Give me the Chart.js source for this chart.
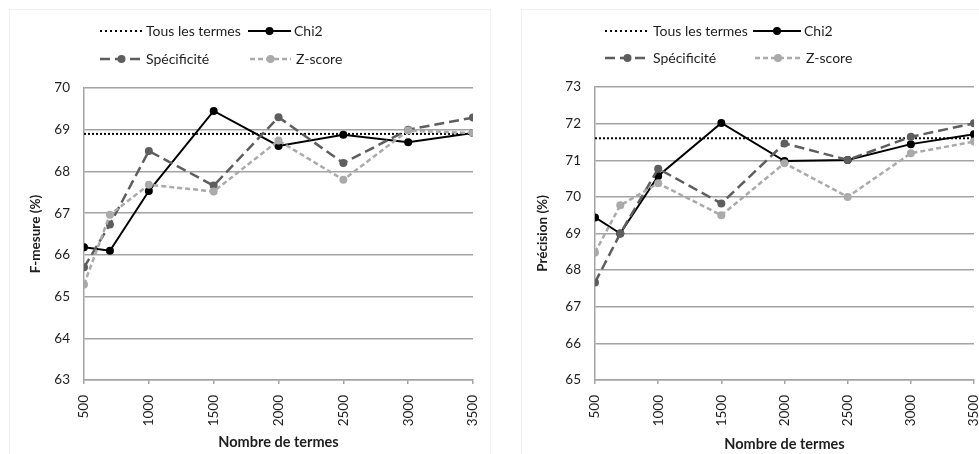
<!DOCTYPE html>
<html>
<head>
<meta charset="utf-8">
<script src="https://cdn.jsdelivr.net/npm/chart.js@4"></script>
<style>
  html, body { margin: 0; padding: 0; background: #fff; overflow: hidden; width: 979px; height: 454px; }
  .frame { position: absolute; box-sizing: border-box; border: 1px solid #efefef; }
  canvas { position: absolute; }
</style>
</head>
<body>
<div class="frame" style="left:9px;top:9px;width:482px;height:470px"></div>
<div class="frame" style="left:521px;top:9px;width:480px;height:470px"></div>
<canvas id="fmesure" width="480" height="444" style="left:10px;top:10px"></canvas>
<canvas id="precision" width="480" height="444" style="left:522px;top:10px"></canvas>
<script>
// Number of terms kept for each run
const termCounts = [500, 700, 1000, 1500, 2000, 2500, 3000, 3500];
const xTickValues = [500, 1000, 1500, 2000, 2500, 3000, 3500];

// F-measure (%)
const fAllTerms = 68.9;
const fChi2     = [66.18, 66.10, 67.53, 69.45, 68.61, 68.88, 68.70, 68.92];
const fSpecif   = [65.70, 66.73, 68.49, 67.66, 69.30, 68.20, 69.00, 69.29];
const fZscore   = [65.29, 66.96, 67.68, 67.52, 68.74, 67.80, 68.98, 68.92];
const fTicks    = [63, 64, 65, 66, 67, 68, 69, 70];

// Precision (%)
const pAllTerms = 71.6;
const pChi2     = [69.44, 69.00, 70.57, 72.02, 70.98, 71.01, 71.44, 71.71];
const pSpecif   = [67.66, 69.00, 70.77, 69.82, 71.46, 71.01, 71.64, 72.01];
const pZscore   = [68.48, 69.77, 70.37, 69.50, 70.92, 70.00, 71.19, 71.51];
const pTicks    = [65, 66, 67, 68, 69, 70, 71, 72, 73];

const FONT = 'Lato, "Open Sans", sans-serif';
const GRID = '#a3a3a3';
const TEXT = '#1e1e1e';

const toPoints = vals => vals.map((v, i) => ({ x: termCounts[i], y: v }));

// Two-column legend drawn above the plot, using each dataset's own style
const gridLegend = {
  id: 'gridLegend',
  afterDraw(chart, args, opts) {
    const ctx = chart.ctx;
    const sets = chart.data.datasets;
    ctx.save();
    ctx.font = opts.font;
    ctx.textBaseline = 'middle';
    ctx.textAlign = 'left';
    opts.items.forEach(it => {
      const d = sets[it.index];
      ctx.beginPath();
      ctx.setLineDash(it.dash || d.borderDash || []);
      ctx.lineWidth = d.borderWidth;
      ctx.strokeStyle = d.borderColor;
      ctx.moveTo(it.x0, it.y);
      ctx.lineTo(it.x1, it.y);
      ctx.stroke();
      ctx.setLineDash([]);
      if (d.pointRadius > 0) {
        ctx.beginPath();
        ctx.fillStyle = d.pointBackgroundColor;
        ctx.arc((it.x0 + it.x1) / 2, it.y, d.pointRadius, 0, Math.PI * 2);
        ctx.fill();
      }
      ctx.fillStyle = TEXT;
      ctx.fillText(d.label, it.tx, it.y + 0.5);
    });
    ctx.restore();
  }
};

function makeDatasets(allTerms, chi2, specif, zscore) {
  return [
    {
      label: 'Tous les termes',
      data: [{ x: termCounts[0], y: allTerms }, { x: termCounts[termCounts.length - 1], y: allTerms }],
      borderColor: '#000', borderWidth: 2, borderDash: [2, 2],
      pointRadius: 0, order: 4
    },
    {
      label: 'Chi2',
      data: toPoints(chi2),
      borderColor: '#000', borderWidth: 2,
      pointRadius: 4, pointBackgroundColor: '#000', pointBorderWidth: 0, order: 3
    },
    {
      label: 'Spécificité',
      data: toPoints(specif),
      borderColor: '#5e5e5e', borderWidth: 2.5, borderDash: [10, 5],
      pointRadius: 4, pointBackgroundColor: '#5e5e5e', pointBorderWidth: 0, order: 2
    },
    {
      label: 'Z-score',
      data: toPoints(zscore),
      borderColor: '#aaaaaa', borderWidth: 2.5, borderDash: [5, 3],
      pointRadius: 4, pointBackgroundColor: '#aaaaaa', pointBorderWidth: 0, order: 1
    }
  ];
}

// The plot rectangle is set by the layout padding alone
function noScalePadding(s) {
  s.paddingLeft = 0; s.paddingRight = 0; s.paddingTop = 0; s.paddingBottom = 0;
}

function makeChart(id, cfg) {
  const yTicks = cfg.yTicks;
  return new Chart(document.getElementById(id), {
    type: 'line',
    data: { datasets: makeDatasets(cfg.all, cfg.chi2, cfg.specif, cfg.zscore) },
    options: {
      responsive: false,
      animation: false,
      devicePixelRatio: 1,
      layout: { padding: { left: 0, right: cfg.padRight, top: cfg.padTop, bottom: 0 } },
      elements: { line: { tension: 0, fill: false } },
      plugins: {
        legend: { display: false },
        tooltip: { enabled: false },
        gridLegend: { font: '14px ' + FONT, items: cfg.legendItems }
      },
      scales: {
        x: {
          type: 'linear',
          min: xTickValues[0],
          max: xTickValues[xTickValues.length - 1],
          afterBuildTicks: s => { s.ticks = xTickValues.map(v => ({ value: v })); },
          afterFit: s => { s.height = 74; noScalePadding(s); },
          border: { color: GRID, width: 1.5 },
          grid: { drawOnChartArea: false, drawTicks: true, tickLength: 4, color: GRID, lineWidth: 1.5 },
          ticks: {
            minRotation: 90, maxRotation: 90, padding: 11,
            color: TEXT, font: { family: FONT, size: 13.5 },
            callback: v => String(v)
          },
          title: {
            display: true, text: 'Nombre de termes', color: TEXT,
            font: { family: FONT, size: 14.5, weight: 'bold' },
            padding: { top: 0, bottom: cfg.xTitlePad }
          }
        },
        y: {
          min: yTicks[0],
          max: yTicks[yTicks.length - 1],
          afterBuildTicks: s => { s.ticks = yTicks.map(v => ({ value: v })); },
          afterFit: s => { s.width = cfg.yWidth; noScalePadding(s); },
          border: { color: GRID, width: 1.5 },
          grid: { drawTicks: false, color: GRID, lineWidth: 1.5 },
          ticks: {
            padding: 14, color: TEXT, font: { family: FONT, size: 13.5 },
            callback: v => String(v)
          },
          title: {
            display: true, text: cfg.yTitle, color: TEXT,
            font: { family: FONT, size: 13.5, weight: 'bold' },
            padding: { top: cfg.yTitlePad, bottom: 0 }
          }
        }
      }
    },
    plugins: [gridLegend]
  });
}

makeChart('fmesure', {
  all: fAllTerms, chi2: fChi2, specif: fSpecif, zscore: fZscore,
  yTicks: fTicks, yTitle: 'F-mesure (%)',
  yWidth: 74, padRight: 17, padTop: 78, yTitlePad: 18, xTitlePad: 3,
  legendItems: [
    { index: 0, x0: 90, x1: 133, tx: 136, y: 21, dash: [2, 3] },
    { index: 1, x0: 238, x1: 281, tx: 284, y: 21 },
    { index: 2, x0: 90, x1: 133, tx: 136, y: 49 },
    { index: 3, x0: 240, x1: 281, tx: 286, y: 49 }
  ]
});

makeChart('precision', {
  all: pAllTerms, chi2: pChi2, specif: pSpecif, zscore: pZscore,
  yTicks: pTicks, yTitle: 'Précision (%)',
  yWidth: 73, padRight: 28, padTop: 77, yTitlePad: 13, xTitlePad: 1,
  legendItems: [
    { index: 0, x0: 83, x1: 128, tx: 131, y: 21, dash: [2, 3] },
    { index: 1, x0: 231, x1: 279, tx: 282, y: 21 },
    { index: 2, x0: 83, x1: 128, tx: 131, y: 48 },
    { index: 3, x0: 233, x1: 279, tx: 284, y: 48 }
  ]
});
</script>
</body>
</html>
